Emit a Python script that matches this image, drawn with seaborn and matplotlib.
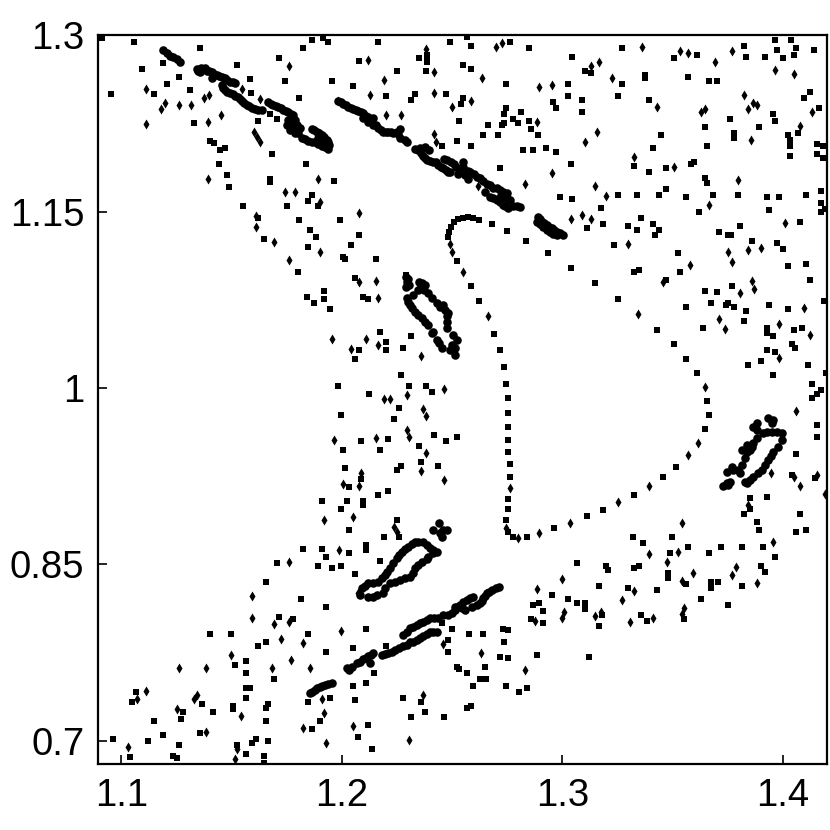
import matplotlib
matplotlib.use('Agg')
import matplotlib.pyplot as plt
import pandas as pd
import seaborn as sns

# ----- Data -----

x_ticks = [1.1, 1.2, 1.3, 1.4]
y_ticks = [0.7, 0.85, 1, 1.15, 1.3]
y_tick_labels = ['0.7', '0.85', '1', '1.15', '1.3']

# scattered orbit points, upper left
squares_ul = [(1.1055,1.2941),(1.1356,1.2890),(1.1713,1.2805),(1.1825,1.2890),(1.1864,1.2963),(1.1938,1.2946),(1.1915,1.2975),
    (1.1525,1.2748),(1.1093,1.2714),(1.1188,1.2768),(1.1262,1.2643),(1.1206,1.2589),(1.1149,1.2501),(1.0952,1.2501),(1.1309,1.2535),
    (1.1581,1.2626),(1.1741,1.2609),(1.1956,1.2609),(1.1807,1.2467),(1.1586,1.2507),(1.1329,1.2255),(1.1619,1.2272),(1.1675,1.2328),
    (1.1704,1.2291),(1.1684,1.1991),(1.1835,1.1903),(1.1441,1.1903),(1.1478,1.1815),(1.1487,1.1711),(1.1468,1.2045),(1.1448,1.2025),
    (1.1401,1.2099),(1.1419,1.2082),(1.1675,1.1779),(1.1675,1.1750),(1.1965,1.1762),(1.1553,1.1552),(1.1751,1.1552),(1.1844,1.1589),
    (1.1864,1.1640),(1.1891,1.1552),(1.1807,1.1430),(1.1991,1.1430),(1.1853,1.1342),(1.1882,1.1288),(1.1646,1.1271),(1.1844,1.1200),
    (1.1802,1.0990),(1.1621,1.1444),(1.0910,1.2977)]
diamonds_ul = [(1.1111,1.2547),(1.1197,1.2428),(1.1178,1.2371),(1.1262,1.2408),(1.1315,1.2408),(1.1395,1.2496),(1.1376,1.2470),
    (1.1111,1.2249),(1.1394,1.2266),(1.1450,1.2320),(1.1545,1.2547),(1.1628,1.2462),(1.1760,1.2737),(1.1394,1.1776),(1.1601,1.2181),
    (1.1613,1.2133),(1.1628,1.2090),(1.1741,1.1668),(1.1788,1.1668),(1.1891,1.1776),(1.1900,1.1586),(1.1608,1.1464),(1.1608,1.1368),
    (1.1693,1.1246),(1.1900,1.1158),(1.1760,1.1087),(1.1983,1.2442)]

# upper middle
squares_um = [(1.2163,1.2941),(1.2491,1.2941),(1.2565,1.2989),(1.2585,1.2909),(1.2764,1.2941),(1.2848,1.2890),(1.3045,1.2819),
    (1.2079,1.2785),(1.2351,1.2805),(1.2387,1.2805),(1.2387,1.2776),(1.2387,1.2833),(1.2248,1.2697),(1.2381,1.2697),(1.2549,1.2751),
    (1.2585,1.2714),(1.2745,1.2589),(1.2050,1.2572),(1.2200,1.2484),(1.2331,1.2501),(1.2313,1.2450),(1.2472,1.2501),(1.2549,1.2467),
    (1.2538,1.2416),(1.3027,1.2589),(1.3027,1.2484),(1.2959,1.2430),(1.2971,1.2380),(1.2745,1.2380),(1.2735,1.2328),(1.2810,1.2345),
    (1.2774,1.2292),(1.2800,1.2255),(1.2735,1.2255),(1.2725,1.2238),(1.2848,1.2272),(1.2661,1.2238),(1.2529,1.2272),(1.2857,1.2204),
    (1.2888,1.2150),(1.2641,1.2150),(1.2708,1.2150),(1.2520,1.2099),(1.2455,1.2062),(1.2585,1.2062),(1.2821,1.2025),(1.2868,1.2025),
    (1.2924,1.2045),(1.2971,1.2008),(1.3037,1.1903),(1.2717,1.1869),(1.2989,1.1623),(1.3045,1.1606),(1.2079,1.1305),(1.2041,1.1217),
    (1.2006,1.1113),(1.2014,1.1096),(1.2153,1.1096),(1.2520,1.1079),(1.2623,1.1430),(1.2680,1.1396),(1.2750,1.1334),(1.2835,1.1254),
    (1.2933,1.1150),(1.3037,1.1025),(1.2290,1.0962)]
diamonds_um = [(1.2116,1.2793),(1.2381,1.2884),(1.2417,1.2688),(1.2192,1.2618),(1.2634,1.2635),(1.2699,1.2898),(1.2726,1.2938),
    (1.2127,1.2496),(1.2417,1.2510),(1.2585,1.2442),(1.2501,1.2388),(1.2895,1.2564),(1.2953,1.2581),(1.2200,1.2320),(1.2266,1.2320),
    (1.2886,1.2266),(1.2417,1.2161),(1.2426,1.2090),(1.2953,1.1827),(1.2830,1.1736),(1.2615,1.1722),(1.2079,1.1492),(1.2491,1.1226),
    (1.2501,1.1155),(1.2549,1.0985),(1.3037,1.1439)]

# upper right
squares_ur = [(1.3270,1.2890),(1.3964,1.2960),(1.4038,1.2960),(1.3823,1.2907),(1.3833,1.2819),(1.3919,1.2819),(1.3975,1.2873),
    (1.4002,1.2805),(1.4058,1.2890),(1.4049,1.2836),(1.4142,1.2873),(1.3506,1.2805),(1.3609,1.2836),(1.3102,1.2697),(1.3129,1.2677),
    (1.3374,1.2663),(1.3374,1.2640),(1.3270,1.2589),(1.3571,1.2643),(1.3665,1.2609),(1.3702,1.2609),(1.3252,1.2484),(1.3392,1.2450),
    (1.3087,1.2450),(1.3087,1.2345),(1.4124,1.2521),(1.4095,1.2467),(1.4162,1.2380),(1.3956,1.2328),(1.3965,1.2275),(1.3758,1.2292),
    (1.3890,1.2221),(1.3646,1.2221),(1.3448,1.2150),(1.3412,1.2045),(1.3656,1.2062),(1.3778,1.2167),(1.3778,1.2124),(1.4021,1.2150),
    (1.4030,1.2110),(1.4030,1.2062),(1.4067,1.2170),(1.4153,1.2079),(1.4183,1.2062),(1.4153,1.1991),(1.4183,1.1957),(1.4030,1.1974),
    (1.3326,1.1886),(1.3392,1.1835),(1.3468,1.1869),(1.3598,1.1923),(1.3583,1.1903),(1.3646,1.1784),(1.3656,1.1748),(1.3468,1.1694),
    (1.3439,1.1640),(1.3337,1.1640),(1.3252,1.1640),(1.3562,1.1623),(1.3683,1.1640),(1.3796,1.1640),(1.3928,1.1623),(1.3984,1.1623),
    (1.4106,1.1640),(1.4171,1.1677),(1.4171,1.1572),(1.4171,1.1501),(1.4191,1.1524),(1.3176,1.1535),(1.3618,1.1501),(1.3937,1.1518),
    (1.3355,1.1447),(1.3185,1.1396),(1.3113,1.1359),(1.3299,1.1376),(1.3337,1.1342),(1.3412,1.1396),(1.3439,1.1342),(1.3421,1.1305),
    (1.3805,1.1376),(1.3712,1.1325),(1.3749,1.1305),(1.3763,1.1305),(1.4077,1.1413),(1.3861,1.1254),(1.3975,1.1237),(1.4002,1.1184),
    (1.3234,1.1217),(1.3524,1.1150),(1.4021,1.1042),(1.4106,1.1059),(1.3533,1.0991),(1.3326,1.0991),(1.3346,1.1005)]
diamonds_ur = [(1.3167,1.2776),(1.3129,1.2742),(1.3223,1.2635),(1.3359,1.2898),(1.3533,1.2864),(1.3571,1.2847),(1.3692,1.2776),
    (1.3768,1.2864),(1.3965,1.2705),(1.4049,1.2669),(1.3823,1.2496),(1.3863,1.2422),(1.3881,1.2405),(1.3843,1.2371),(1.3430,1.2388),
    (1.3627,1.2351),(1.3646,1.2371),(1.4133,1.2351),(1.4077,1.2232),(1.3158,1.2178),(1.3102,1.2090),(1.3854,1.2107),(1.3326,1.1966),
    (1.3506,1.1878),(1.3796,1.1773),(1.3148,1.1719),(1.3196,1.1631),(1.3665,1.1560),(1.3091,1.1472),(1.3129,1.1439),(1.4011,1.1403),
    (1.3299,1.1226),(1.3749,1.1155),(1.3843,1.1175),(1.3899,1.1192),(1.3768,1.1070),(1.3580,1.1050)]

# centre column
squares_mid = [(1.2059,1.0939),(1.1918,1.0829),(1.1918,1.0761),(1.1843,1.0778),(1.1872,1.0724),(1.1947,1.0673),(1.2097,1.0778),
    (1.2116,1.0761),(1.2172,1.0477),(1.2313,1.0443),(1.2200,1.0389),(1.2200,1.0321),(1.2079,1.0321),(1.2059,1.0251),(1.2277,1.0338),
    (1.2266,1.0109),(1.1983,1.0021),(1.2304,1.0021),(1.2380,1.0021),(1.2408,0.9967),(1.2124,0.9950),(1.2257,0.9828),(1.1994,0.9774),
    (1.2237,0.9740),(1.2210,0.9565),(1.2088,0.9548),(1.2003,0.9477),(1.2417,0.9598),(1.2472,0.9548),(1.2520,0.9582),(1.2351,0.9511),
    (1.2172,0.9477),(1.2360,0.9372),(1.2435,0.9335),(1.2266,0.9335),(1.2248,0.9301),(1.2012,0.9318),(1.2088,0.9227),(1.2030,0.9159),
    (1.2210,0.9125),(1.2163,0.9089),(1.1909,0.9038),(1.2021,0.9038),(1.2097,0.9038),(1.2097,0.9006),(1.1994,0.8969)]
diamonds_mid = [(1.2079,1.0905),(1.2154,1.0911),(1.2163,1.0769),(1.1956,1.0418),(1.2107,1.0418),(1.2041,1.0330),(1.2163,1.0364),
    (1.2360,1.0276),(1.2463,0.9995),(1.2295,0.9942),(1.2191,0.9908),(1.2219,0.9908),(1.2369,0.9823),(1.2380,0.9766),(1.2295,0.9641),
    (1.2304,0.9587),(1.1965,0.9556),(1.2154,0.9573),(1.2380,0.9448),(1.2360,0.9293),(1.2463,0.9222),(1.2088,0.9276),(1.2003,0.9188),
    (1.2079,0.9168),(1.1918,0.8880)]

# the thin closed curve
curve_squares = [(1.2587,1.0866),(1.2623,1.0744),(1.2689,1.0460),(1.2717,1.0321),(1.2736,1.0180),(1.2745,1.0038),(1.2755,0.9916),
    (1.2755,0.9791),(1.2755,0.9669),(1.2755,0.9562),(1.2755,0.9457),(1.2764,0.9352),(1.2764,0.9245),(1.2755,0.9054),(1.2755,0.8975),
    (1.2744,0.8878),(1.2754,0.8774),(1.2774,0.8737),(1.2838,0.8737),(1.2962,0.8808),(1.3111,0.8913),(1.3185,0.8964),(1.3326,0.9089),
    (1.3457,0.9247),(1.3515,0.9332),(1.3647,0.9650),(1.3665,0.9774),(1.3655,0.9893),(1.3609,1.0126),(1.3560,1.0250),(1.3506,1.0372),
    (1.3430,1.0497),(1.3252,1.0761),(1.3147,1.0897),(1.2482,1.1288),(1.2485,1.1331),(1.2493,1.1373),(1.2508,1.1410),(1.2528,1.1436),
    (1.2550,1.1450),(1.2573,1.1453),(1.2593,1.1450)]
curve_diamonds = [(1.2661,1.0610),(1.2764,0.9151),(1.2744,0.8808),(1.2800,0.8728),(1.2895,0.8765),(1.3036,0.8851),(1.3252,0.9029),
    (1.3391,0.9168),(1.3571,0.9434),(1.3617,0.9536),(1.3645,1.0012),(1.3344,1.0627)]

# right side, between y = 0.85 and y = 1.1
squares_right = [(1.3472,1.0919),(1.3646,1.0829),(1.3702,1.0814),(1.3767,1.0865),(1.3675,1.0724),(1.3560,1.0690),(1.3740,1.0710),
    (1.3752,1.0727),(1.3778,1.0693),(1.3834,1.0656),(1.3937,1.0707),(1.4021,1.0673),(1.4124,1.0919),(1.4186,1.0741),(1.3825,1.0568),
    (1.3637,1.0514),(1.3929,1.0514),(1.3929,1.0466),(1.3956,1.0443),(1.4050,1.0497),(1.4088,1.0514),(1.4041,1.0375),(1.4056,1.0338),
    (1.3928,1.0321),(1.3965,1.0304),(1.3899,1.0233),(1.3843,1.0197),(1.4115,1.0197),(1.3956,1.0109),(1.4195,1.0126),(1.4133,1.0038),
    (1.4171,0.9984),(1.4153,0.9950),(1.4133,0.9916),(1.4153,0.9687),(1.4153,0.9582),(1.4059,0.9440),(1.3928,0.9072),(1.3850,0.9069),
    (1.3852,0.8970),(1.3825,0.8930),(1.4077,0.8930),(1.3881,0.8859),(1.3890,0.8791),(1.4059,0.8774),(1.4106,0.8791),(1.3318,0.8737),
    (1.3495,0.8737),(1.3365,0.8683),(1.3571,0.8649),(1.3721,0.8649),(1.3814,0.8649),(1.3910,0.8649),(1.4041,0.9264),(1.4144,0.9233)]
diamonds_right = [(1.3457,1.0905),(1.3860,1.0911),(1.3870,1.0840),(1.3805,1.0806),(1.4095,1.0678),(1.3711,1.0591),(1.3739,1.0503),
    (1.3984,1.0542),(1.4124,1.0455),(1.3984,1.0259),(1.4059,0.9803),(1.3946,0.9276),(1.4077,0.9168),(1.4050,0.9247),(1.4153,0.9261),
    (1.3843,0.9009),(1.3956,0.8692),(1.4191,0.9100),(1.3542,0.8851)]

# lower left
squares_ll = [(1.1825,0.8629),(1.1909,0.8629),(1.1927,0.8561),(1.1890,0.8490),(1.1956,0.8473),(1.1994,0.8490),(1.2032,0.8595),
    (1.2032,0.8791),(1.2059,0.8419),(1.1704,0.8510),(1.1657,0.8351),(1.1816,0.8210),(1.1927,0.8139),(1.1713,0.8051),(1.1776,0.8034),
    (1.1403,0.7912),(1.1497,0.7912),(1.1844,0.7912),(1.1657,0.7841),(1.1619,0.7804),(1.2051,0.7787),(1.1927,0.7753),(1.1563,0.7680),
    (1.1516,0.7646),(1.1563,0.7575),(1.1693,0.7524),(1.1563,0.7453),(1.1583,0.7453),(1.2051,0.7470),(1.1066,0.7416),(1.1563,0.7365),
    (1.1947,0.7365),(1.2059,0.7348),(1.1844,0.7331),(1.1046,0.7331),(1.1367,0.7314),(1.1507,0.7297),(1.1507,0.7272),(1.1666,0.7314),
    (1.1657,0.7277),(1.1413,0.7243),(1.1280,0.7243),(1.1271,0.7189),(1.1149,0.7172),(1.1657,0.7172),(1.1900,0.7172),(1.1863,0.7102),
    (1.1356,0.7065),(1.1188,0.7048),(1.0961,0.7014),(1.1122,0.6997),(1.1666,0.6997),(1.1610,0.7014),(1.1590,0.6979),(1.1262,0.6960),
    (1.1525,0.6960),(1.2074,0.7031),(1.1037,0.6861),(1.1235,0.6872),(1.1253,0.6855),(1.1563,0.6889),(1.1646,0.6872),(1.1646,0.6810)]
diamonds_ll = [(1.1760,0.8518),(1.1985,0.8620),(1.1592,0.8235),(1.1592,0.8042),(1.1693,0.7989),(1.1760,0.8014),(1.1722,0.7867),
    (1.1825,0.7833),(1.1994,0.7937),(1.1497,0.7728),(1.1769,0.7691),(1.1262,0.7623),(1.1383,0.7623),(1.1684,0.7623),(1.1853,0.7623),
    (1.1113,0.7425),(1.1069,0.7357),(1.1344,0.7391),(1.1329,0.7357),(1.1253,0.7269),(1.1543,0.7215),(1.1918,0.7235),(1.1909,0.7357),
    (1.1825,0.7110),(1.2051,0.7127),(1.1383,0.7076),(1.1028,0.6951),(1.1525,0.6929),(1.1927,0.6980),(1.1516,0.6849),(1.2074,0.8255)]

# lower middle
squares_lm = [(1.2107,0.8666),(1.2107,0.8623),(1.2192,0.8737),(1.2172,0.8527),(1.2248,0.8878),(1.2260,0.8737),(1.2951,0.8244),
    (1.2868,0.8156),(1.2895,0.8173),(1.2913,0.8105),(1.2856,0.8037),(1.2913,0.8000),(1.2732,0.7949),(1.2754,0.7943),(1.2735,0.7841),
    (1.2717,0.7716),(1.2754,0.7700),(1.2886,0.7733),(1.2650,0.7631),(1.2566,0.7578),(1.2626,0.7524),(1.2652,0.7524),(1.2596,0.7470),
    (1.2744,0.7470),(1.2839,0.7453),(1.2801,0.7419),(1.2576,0.7909),(1.2641,0.7909),(1.2500,0.7949),(1.2455,0.8000),(1.2482,0.7858),
    (1.2482,0.7753),(1.2520,0.7631),(1.2532,0.7609),(1.2277,0.7365),(1.2360,0.7331),(1.2379,0.7243),(1.2313,0.7206),(1.2464,0.7206),
    (1.2585,0.7294),(1.2566,0.7277),(1.2116,0.7135),(1.2136,0.6929),(1.2145,0.7575),(1.2107,0.7490),(1.2107,0.7949),(1.2200,0.7807)]
diamonds_lm = [(1.2051,0.8907),(1.2237,0.8822),(1.2251,0.8779),(1.2886,0.8289),(1.2875,0.8022),(1.2632,0.7745),(1.2830,0.7603),
    (1.2369,0.7393),(1.2457,0.7824),(1.2304,0.7005)]

# lower right
squares_lr = [(1.3486,0.8598),(1.3665,0.8598),(1.3064,0.8510),(1.3196,0.8490),(1.3205,0.8456),(1.3346,0.8490),(1.3326,0.8473),
    (1.3900,0.8490),(1.3919,0.8439),(1.3965,0.8561),(1.3477,0.8425),(1.3477,0.8382),(1.3560,0.8334),(1.3674,0.8354),(1.3674,0.8297),
    (1.3707,0.8354),(1.3814,0.8314),(1.3167,0.8314),(1.3299,0.8297),(1.3430,0.8281),(1.3027,0.8210),(1.3064,0.8176),(1.3102,0.8176),
    (1.3102,0.8122),(1.3627,0.8210),(1.3749,0.8156),(1.3355,0.8068),(1.3383,0.8017),(1.3553,0.8034),(1.3178,0.8071),(1.3167,0.7980),
    (1.3119,0.7716)]
diamonds_lr = [(1.3392,0.8587),(1.3524,0.8603),(1.3476,0.8518),(1.3787,0.8482),(1.3591,0.8431),(1.3768,0.8414),(1.3542,0.8360),
    (1.3881,0.8343),(1.3000,0.8377),(1.3326,0.8272),(1.3270,0.8201),(1.3007,0.8099),(1.2999,0.8042),(1.3147,0.8059),(1.3176,0.8093),
    (1.3553,0.8130),(1.3542,0.8076),(1.3412,0.8042),(1.3308,0.8008)]

# thick bands of the island chain
band_top_left = [(1.1187,1.2875),(1.1205,1.2847),(1.1220,1.2827),(1.1235,1.2813),(1.1250,1.2799),(1.1265,1.2776),
    (1.1341,1.2711),(1.1361,1.2720),(1.1379,1.2720),(1.1398,1.2697),(1.1419,1.2674),(1.1444,1.2654),(1.1469,1.2635),(1.1492,1.2606),
    (1.1515,1.2592),(1.1356,1.2686),(1.1409,1.2635),(1.1454,1.2578),(1.1469,1.2535),(1.1492,1.2513),(1.1515,1.2487),(1.1537,1.2459),
    (1.1556,1.2422),(1.1580,1.2399),(1.1605,1.2371),(1.1636,1.2362),(1.1666,1.2430),(1.1689,1.2408),(1.1711,1.2394),(1.1734,1.2365),
    (1.1757,1.2345),(1.1779,1.2323),(1.1787,1.2280),(1.1794,1.2238),(1.1802,1.2195),(1.1749,1.2238),(1.1764,1.2195),(1.1787,1.2167),
    (1.1817,1.2130),(1.1847,1.2102),(1.1878,1.2090),(1.1908,1.2062),(1.1938,1.2034),(1.1863,1.2204),(1.1885,1.2181),(1.1908,1.2153),
    (1.1931,1.2110),(1.1941,1.2068),(1.1772,1.2280),(1.1810,1.2209),(1.1779,1.2224),
    (1.1348,1.2697),(1.1386,1.2697),(1.1409,1.2685),(1.1432,1.2663),(1.1457,1.2643),(1.1480,1.2620),(1.1504,1.2600),(1.1462,1.2555),
    (1.1480,1.2521),(1.1504,1.2498),(1.1527,1.2473),(1.1546,1.2442),(1.1568,1.2408),(1.1593,1.2385),(1.1621,1.2365),(1.1677,1.2419),
    (1.1701,1.2402),(1.1722,1.2379),(1.1746,1.2357),(1.1769,1.2334),(1.1757,1.2280),(1.1782,1.2252),(1.1802,1.2167),(1.1832,1.2116),
    (1.1863,1.2096),(1.1893,1.2076),(1.1923,1.2048),(1.1873,1.2192),(1.1897,1.2167),(1.1920,1.2133),(1.1938,1.2090),(1.1915,1.2096),
    (1.1893,1.2124)]
band_top_mid = [(1.1983,1.2442),(1.2006,1.2416),(1.2028,1.2394),(1.2051,1.2374),(1.2074,1.2357),(1.2097,1.2337),(1.2097,1.2294),
    (1.2120,1.2309),(1.2120,1.2266),(1.2142,1.2294),(1.2142,1.2238),(1.2165,1.2210),(1.2188,1.2181),(1.2210,1.2176),(1.2233,1.2167),
    (1.2263,1.2204),(1.2263,1.2124),(1.2293,1.2096),(1.2331,1.2034),(1.2354,1.2045),(1.2377,1.2051),(1.2396,1.2022),(1.2357,1.1997),
    (1.2377,1.1954),(1.2399,1.1932),(1.2426,1.1920),(1.2448,1.1884),(1.2472,1.1855),(1.2490,1.1835),(1.2463,1.1949),(1.2493,1.1926),
    (1.2517,1.1884),(1.2528,1.1818),(1.2547,1.1926),(1.2543,1.1869),(1.2573,1.1847),(1.2573,1.1779),(1.2599,1.1818),(1.2626,1.1784),
    (1.2656,1.1733),(1.2686,1.1705),(1.2717,1.1685),(1.2747,1.1657),(1.2649,1.1671),(1.2671,1.1628),(1.2702,1.1600),(1.2732,1.1558),
    (1.2754,1.1529),(1.2777,1.1544),(1.2807,1.1538),(1.2762,1.1600),(1.2717,1.1628),(1.2891,1.1458),(1.2906,1.1416),(1.2928,1.1388),
    (1.2951,1.1359),(1.2974,1.1331),(1.3004,1.1303),(1.2886,1.1416),(1.2913,1.1373),(1.2944,1.1325),(1.2974,1.1303),
    (1.1994,1.2431),(1.2018,1.2408),(1.2039,1.2385),(1.2064,1.2365),(1.2085,1.2345),(1.2109,1.2317),(1.2130,1.2280),(1.2153,1.2238),
    (1.2175,1.2195),(1.2200,1.2176),(1.2223,1.2176),(1.2248,1.2181),(1.2255,1.2158),(1.2286,1.2110),(1.2343,1.2025),(1.2366,1.1977),
    (1.2387,1.1940),(1.2414,1.1926),(1.2437,1.1898),(1.2460,1.1869),(1.2481,1.1841),(1.2478,1.1940),(1.2508,1.1903),(1.2550,1.1884),
    (1.2558,1.1813),(1.2581,1.1841),(1.2611,1.1799),(1.2641,1.1762),(1.2671,1.1728),(1.2702,1.1699),(1.2732,1.1671),(1.2747,1.1614),
    (1.2686,1.1614),(1.2717,1.1586),(1.2739,1.1544),(1.2792,1.1544),(1.2898,1.1439),(1.2916,1.1402),(1.2940,1.1373),(1.2962,1.1345),
    (1.2989,1.1317),(1.2898,1.1393),(1.2928,1.1345),(1.2959,1.1308)]
ring_upper = [(1.2290,1.0948),(1.2296,1.0905),(1.2290,1.0863),(1.2351,1.0905),(1.2377,1.0877),(1.2392,1.0806),(1.2293,1.0763),
    (1.2309,1.0707),(1.2331,1.0650),(1.2361,1.0593),(1.2392,1.0537),(1.2407,1.0466),(1.2429,1.0409),(1.2452,1.0338),(1.2324,1.0792),
    (1.2346,1.0834),(1.2429,1.0721),(1.2467,1.0664),(1.2475,1.0565),(1.2475,1.0508),(1.2505,1.0452),(1.2520,1.0409),(1.2490,1.0324),
    (1.2513,1.0282),(1.2505,1.0324),(1.2460,1.0707),(1.2482,1.0636),(1.2414,1.0480),(1.2441,1.0381),
    (1.2410,1.0763),(1.2370,1.0830),(1.2475,1.0615),(1.2500,1.0370),(1.2515,1.0340),(1.2447,1.0690),(1.2300,1.0930),(1.2305,1.0880),
    (1.2365,1.0890),(1.2360,1.0860),(1.2301,1.0735),(1.2320,1.0678),(1.2346,1.0622),(1.2376,1.0565)]
ring_right = [(1.3881,0.9701),(1.3881,0.9644),(1.3934,0.9743),(1.3949,0.9701),(1.3911,0.9616),(1.3949,0.9630),(1.3994,0.9616),
    (1.3994,0.9559),(1.3979,0.9502),(1.3835,0.9517),(1.3813,0.9474),(1.3835,0.9460),(1.3767,0.9332),(1.3745,0.9290),(1.3798,0.9304),
    (1.3745,0.9190),(1.3730,0.9168),(1.3881,0.9573),(1.3813,0.9346),(1.3805,0.9276),(1.3828,0.9205),(1.3866,0.9242),(1.3903,0.9304),
    (1.3934,0.9389),(1.3956,0.9460),(1.3850,0.9219),(1.3858,0.9502),
    (1.3775,0.9300),(1.3760,0.9200),(1.3750,0.9175),(1.3828,0.9403),(1.3850,0.9474),(1.3866,0.9531),(1.3919,0.9346),(1.3944,0.9423),
    (1.3926,0.9624),(1.3971,0.9624),(1.3835,0.9190),(1.3888,0.9276),(1.3866,0.9672),(1.3956,0.9729)]
ring_lower = [(1.2441,0.8850),(1.2414,0.8794),(1.2460,0.8794),(1.2475,0.8794),(1.2452,0.8737),(1.2331,0.8694),(1.2301,0.8652),
    (1.2271,0.8609),(1.2248,0.8553),(1.2218,0.8468),(1.2195,0.8411),(1.2165,0.8354),(1.2119,0.8340),(1.2089,0.8298),(1.2082,0.8241),
    (1.2119,0.8227),(1.2157,0.8241),(1.2187,0.8255),(1.2369,0.8694),(1.2399,0.8638),(1.2429,0.8609),(1.2392,0.8567),(1.2361,0.8524),
    (1.2331,0.8468),(1.2308,0.8397),(1.2263,0.8368),(1.2218,0.8340),(1.2346,0.8694),
    (1.2316,0.8674),(1.2286,0.8629),(1.2259,0.8581),(1.2233,0.8510),(1.2206,0.8439),(1.2180,0.8383),(1.2142,0.8346),(1.2104,0.8317),
    (1.2142,0.8227),(1.2384,0.8666),(1.2414,0.8623),(1.2411,0.8595),(1.2384,0.8544),(1.2346,0.8496),(1.2321,0.8431),(1.2286,0.8383),
    (1.2240,0.8354),(1.2195,0.8298),(1.2445,0.8765)]
band_bottom = [(1.1855,0.7405),(1.1878,0.7433),(1.1900,0.7456),(1.1923,0.7476),(1.1953,0.7495),(1.2024,0.7617),(1.2044,0.7631),
    (1.2067,0.7660),(1.2097,0.7694),(1.2119,0.7722),(1.2142,0.7745),(1.2127,0.7665),(1.2180,0.7731),(1.2210,0.7745),(1.2240,0.7773),
    (1.2278,0.7802),(1.2308,0.7836),(1.2339,0.7858),(1.2369,0.7892),(1.2399,0.7921),(1.2429,0.7929),(1.2278,0.7901),(1.2308,0.7957),
    (1.2339,0.7986),(1.2369,0.8014),(1.2399,0.8043),(1.2437,0.8043),(1.2460,0.8071),(1.2482,0.8071),(1.2513,0.8113),(1.2535,0.8156),
    (1.2565,0.8198),(1.2596,0.8227),(1.2588,0.8142),(1.2626,0.8170),(1.2641,0.8212),(1.2656,0.8255),(1.2679,0.8283),(1.2714,0.8306),
    (1.2513,0.8142),(1.2543,0.8127),
    (1.2033,0.7598),(1.2082,0.7674),(1.2109,0.7708),(1.2132,0.7731),(1.2195,0.7739),(1.2225,0.7759),(1.2260,0.7787),(1.2293,0.7816),
    (1.2324,0.7844),(1.2354,0.7878),(1.2384,0.7907),(1.2414,0.7929),(1.2293,0.7929),(1.2324,0.7971),(1.2354,0.8000),(1.2384,0.8028),
    (1.2419,0.8048),(1.2497,0.8085),(1.2523,0.8136),(1.2550,0.8178),(1.2581,0.8212),(1.2558,0.8113),(1.2611,0.8156),(1.2634,0.8193),
    (1.2649,0.8233),(1.2668,0.8269),(1.2697,0.8297),(1.1866,0.7419),(1.1888,0.7447),(1.1911,0.7467),(1.1938,0.7484)]

# ----- Plot -----

sns.set_style('white')
plt.rcParams['font.family'] = ['Liberation Sans', 'DejaVu Sans']

squares = pd.DataFrame(squares_ul + squares_um + squares_ur + squares_mid + curve_squares + squares_right + squares_ll + squares_lm + squares_lr, columns = ['x', 'y'])
diamonds = pd.DataFrame(diamonds_ul + diamonds_um + diamonds_ur + diamonds_mid + curve_diamonds + diamonds_right + diamonds_ll + diamonds_lm + diamonds_lr, columns = ['x', 'y'])
bands = pd.DataFrame(band_top_left + band_top_mid + ring_upper + ring_right + ring_lower + band_bottom, columns = ['x', 'y'])

fig = plt.figure(figsize = (8.3, 8.3), dpi = 100)
ax = fig.add_axes([98.3 / 830, 1 - 764.3 / 830, (827 - 98.3) / 830, (764.3 - 35.3) / 830])

sns.scatterplot(data = squares, x = 'x', y = 'y', marker = 's', s = 25, color = 'k', linewidth = 0, ax = ax)
sns.scatterplot(data = diamonds, x = 'x', y = 'y', marker = 'd', s = 26, color = 'k', linewidth = 0, ax = ax)
sns.scatterplot(data = bands, x = 'x', y = 'y', marker = 'o', s = 38, color = 'k', linewidth = 0, ax = ax)

ax.set_xlim(1.0895, 1.42)
ax.set_ylim(0.68, 1.3)
ax.set_xticks(x_ticks)
ax.set_xticklabels([str(t) for t in x_ticks])
ax.set_yticks(y_ticks)
ax.set_yticklabels(y_tick_labels)
ax.set_xlabel('')
ax.set_ylabel('')
ax.tick_params(axis = 'x', direction = 'in', length = 6.5, width = 1.2, labelsize = 27.5, pad = 10, color = 'k', labelcolor = 'k', bottom = True)
ax.tick_params(axis = 'y', direction = 'in', length = 6.5, width = 1.2, labelsize = 27.5, pad = 10, color = 'k', labelcolor = 'k', left = True)

for spine in ax.spines.values():
    spine.set_linewidth(1.6)
    spine.set_color('k')

fig.savefig('out.png', dpi = 100)
